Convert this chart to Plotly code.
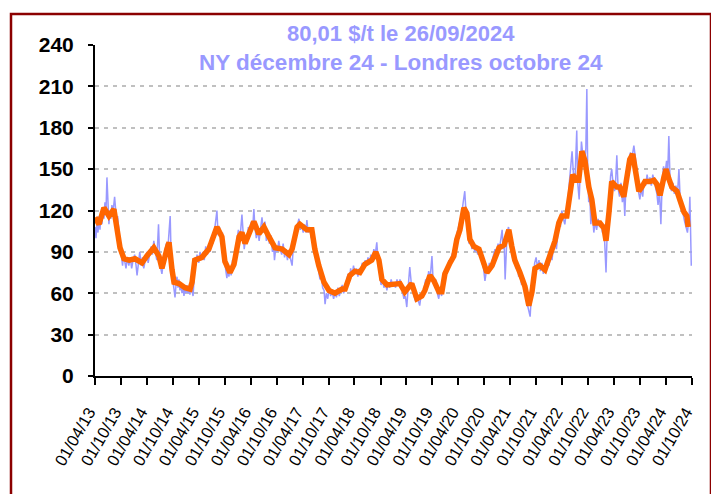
import plotly.graph_objects as go

# ---------------- data ----------------
title_line1 = "80,01 $/t le 26/09/2024"
title_line2 = "NY décembre 24 - Londres octobre 24"

blue_dates = [
    "2013-04-01","2013-04-08","2013-04-15","2013-04-22","2013-04-29","2013-05-06","2013-05-13","2013-05-20","2013-05-27","2013-06-03","2013-06-10","2013-06-17","2013-06-24","2013-07-01","2013-07-08","2013-07-15","2013-07-22","2013-07-29","2013-08-05","2013-08-17","2013-08-24","2013-08-31","2013-09-07","2013-09-14","2013-09-21","2013-09-28","2013-10-05","2013-10-12","2013-10-19","2013-10-26","2013-11-05","2013-11-15","2013-11-25","2013-12-05","2013-12-15","2013-12-25",
    "2014-01-05","2014-01-15","2014-01-22","2014-02-01","2014-02-10","2014-02-20","2014-03-01","2014-03-10","2014-03-20","2014-04-01","2014-04-10","2014-04-20","2014-05-01","2014-05-10","2014-05-20","2014-05-30","2014-06-10","2014-06-22","2014-06-30","2014-07-08","2014-07-16","2014-07-25","2014-08-05","2014-08-15","2014-08-25","2014-09-04","2014-09-12","2014-09-18","2014-09-25","2014-10-02","2014-10-09","2014-10-16","2014-10-23","2014-10-30","2014-11-06","2014-11-13","2014-11-20","2014-11-27","2014-12-04","2014-12-11","2014-12-18","2014-12-25",
    "2015-01-01","2015-01-08","2015-01-15","2015-01-22","2015-01-29","2015-02-05","2015-02-12","2015-02-20","2015-02-27","2015-03-06","2015-03-13","2015-03-20","2015-04-01","2015-04-10","2015-04-20","2015-05-01","2015-05-10","2015-05-20","2015-06-01","2015-06-10","2015-06-20","2015-07-01","2015-07-10","2015-07-20","2015-07-30","2015-08-07","2015-08-15","2015-08-25","2015-09-05","2015-09-15","2015-09-25","2015-10-02","2015-10-09","2015-10-16","2015-10-23","2015-10-30","2015-11-07","2015-11-15","2015-11-25","2015-12-05","2015-12-15","2015-12-25",
    "2016-01-05","2016-01-15","2016-01-30","2016-02-07","2016-02-15","2016-02-25","2016-03-05","2016-03-15","2016-03-25","2016-04-05","2016-04-14","2016-04-23","2016-04-30","2016-05-10","2016-05-20","2016-05-30","2016-06-10","2016-06-19","2016-06-30","2016-07-10","2016-07-20","2016-08-01","2016-08-10","2016-08-20","2016-09-01","2016-09-08","2016-09-15","2016-09-25","2016-10-05","2016-10-15","2016-10-25","2016-11-05","2016-11-15","2016-11-25","2016-12-05","2016-12-15","2016-12-25",
    "2017-01-05","2017-01-17","2017-01-28","2017-02-10","2017-02-20","2017-03-06","2017-03-15","2017-03-25","2017-04-05","2017-04-15","2017-04-25","2017-05-01","2017-05-10","2017-05-20","2017-06-01","2017-06-10","2017-06-20","2017-07-01","2017-07-10","2017-07-20","2017-08-01","2017-08-10","2017-08-20","2017-08-30","2017-09-06","2017-09-15","2017-09-25","2017-10-05","2017-10-15","2017-10-25","2017-11-05","2017-11-15","2017-11-25","2017-12-05","2017-12-15","2017-12-25",
    "2018-01-05","2018-01-15","2018-01-25","2018-02-05","2018-02-15","2018-02-25","2018-03-05","2018-03-15","2018-03-25","2018-04-05","2018-04-15","2018-04-25","2018-05-05","2018-05-15","2018-05-25","2018-06-05","2018-06-15","2018-06-25","2018-07-05","2018-07-15","2018-07-25","2018-08-05","2018-08-15","2018-08-25","2018-09-05","2018-09-15","2018-09-25","2018-10-05","2018-10-15","2018-10-25","2018-11-05","2018-11-15","2018-11-25","2018-12-05","2018-12-15","2018-12-25",
    "2019-01-05","2019-01-15","2019-01-25","2019-02-05","2019-02-15","2019-02-25","2019-03-05","2019-03-15","2019-03-25","2019-04-04","2019-04-15","2019-04-25","2019-05-05","2019-05-15","2019-05-25","2019-06-05","2019-06-20","2019-07-04","2019-07-15","2019-07-25","2019-08-05","2019-08-15","2019-08-25","2019-09-05","2019-09-15","2019-09-28","2019-10-05","2019-10-15","2019-10-25","2019-11-05","2019-11-15","2019-11-25","2019-12-05","2019-12-15","2019-12-25",
    "2020-01-05","2020-01-15","2020-01-25","2020-02-05","2020-02-15","2020-02-25","2020-03-05","2020-03-15","2020-03-25","2020-04-05","2020-04-15","2020-04-25","2020-05-05","2020-05-16","2020-05-25","2020-06-05","2020-06-15","2020-06-25","2020-07-05","2020-07-15","2020-07-25","2020-08-05","2020-08-15","2020-08-25","2020-09-05","2020-09-15","2020-09-25","2020-10-05","2020-10-15","2020-10-25","2020-11-05","2020-11-15","2020-11-25","2020-12-05","2020-12-15","2020-12-25",
    "2021-01-05","2021-01-15","2021-01-25","2021-02-03","2021-02-10","2021-02-17","2021-02-24","2021-03-03","2021-03-10","2021-03-20","2021-03-30","2021-04-10","2021-04-20","2021-04-30","2021-05-10","2021-05-20","2021-05-30","2021-06-10","2021-06-20","2021-06-30","2021-07-10","2021-07-20","2021-07-30","2021-08-10","2021-08-19","2021-08-26","2021-09-03","2021-09-10","2021-09-20","2021-09-30","2021-10-10","2021-10-20","2021-10-30","2021-11-10","2021-11-20","2021-11-30","2021-12-10","2021-12-20","2021-12-30",
    "2022-01-10","2022-01-20","2022-01-30","2022-02-10","2022-02-20","2022-03-01","2022-03-10","2022-03-20","2022-03-30","2022-04-10","2022-04-20","2022-04-30","2022-05-10","2022-05-20","2022-05-30","2022-06-10","2022-06-20","2022-06-30","2022-07-13","2022-07-20","2022-07-30","2022-08-07","2022-08-15","2022-08-25","2022-09-05","2022-09-15","2022-09-22","2022-09-28","2022-10-05","2022-10-12","2022-10-20","2022-10-30","2022-11-10","2022-11-20","2022-11-30","2022-12-10","2022-12-20","2022-12-30",
    "2023-01-10","2023-01-20","2023-01-28","2023-02-04","2023-02-12","2023-02-20","2023-02-28","2023-03-08","2023-03-16","2023-03-25","2023-04-05","2023-04-13","2023-04-21","2023-04-30","2023-05-10","2023-05-20","2023-05-30","2023-06-09","2023-06-16","2023-06-25","2023-07-05","2023-07-15","2023-07-25","2023-08-05","2023-08-19","2023-08-30","2023-09-10","2023-09-20","2023-09-30","2023-10-10","2023-10-20","2023-10-30","2023-11-10","2023-11-20","2023-11-30","2023-12-10","2023-12-20","2023-12-30",
    "2024-01-10","2024-01-20","2024-01-28","2024-02-05","2024-02-15","2024-02-25","2024-03-05","2024-03-15","2024-03-25","2024-04-05","2024-04-12","2024-04-21","2024-04-30","2024-05-10","2024-05-20","2024-05-30","2024-06-10","2024-06-20","2024-07-01","2024-07-10","2024-07-20","2024-07-30","2024-08-10","2024-08-20","2024-08-30","2024-09-05","2024-09-12","2024-09-16","2024-09-19","2024-09-23","2024-09-26",
]
blue_values = [
    108,100,112,104,116,106,118,110,122,114,126,118,144,118,110,120,114,124,118,130,120,112,116,106,98,92,86,80,88,82,78,86,80,86,78,84,
    88,80,73,82,90,80,86,78,84,90,82,88,94,88,98,90,84,110,86,78,74,82,88,96,90,104,116,90,76,68,63,57,66,72,64,70,62,68,60,66,58,64,
    60,66,60,64,59,66,62,58,70,86,80,88,82,90,84,90,84,94,88,96,90,100,96,106,112,120,102,108,98,104,88,80,76,71,78,72,78,73,84,80,92,98,
    106,98,117,100,92,100,98,108,104,112,106,121,108,100,106,98,106,115,104,112,98,104,96,102,90,96,84,94,90,98,92,88,96,86,92,84,90,
    86,80,98,104,108,114,106,110,104,110,104,113,104,108,100,108,96,90,82,78,70,74,64,62,52,60,56,64,58,62,56,61,57,64,58,62,
    66,60,64,70,74,70,78,72,80,74,78,72,78,74,82,78,84,80,86,82,88,84,92,88,97,82,72,66,70,64,68,62,68,64,70,66,
    68,64,70,66,70,64,60,56,58,50,66,79,68,62,58,54,56,51,60,58,64,70,66,76,70,87,72,66,70,60,56,64,58,68,74,
    78,76,84,80,88,90,96,100,104,108,112,118,126,134,118,104,96,103,92,98,90,94,88,92,86,82,78,69,76,74,82,78,84,88,92,86,
    96,92,98,106,92,98,70,96,104,108,100,92,84,88,78,82,72,74,66,70,62,58,52,47,43,56,64,74,82,86,78,84,76,82,74,80,76,84,80,
    88,84,94,98,92,104,112,108,120,114,110,118,124,138,150,163,146,140,178,140,128,150,170,160,152,165,208,150,126,134,110,120,104,112,106,114,108,112,
    104,110,96,75,104,118,132,145,150,140,134,142,160,136,130,140,126,132,116,140,150,156,162,158,167,158,148,134,128,136,130,142,138,146,140,144,138,146,
    140,136,132,124,134,110,140,152,146,156,144,174,140,134,140,132,138,130,150,128,122,118,112,108,104,110,118,130,100,86,80.01,
]

# smoothed average (orange)
avg_dates = [
    "2013-04-01","2013-04-29","2013-06-03","2013-07-08","2013-08-12","2013-09-03","2013-09-24","2013-10-22","2013-11-27","2014-01-08","2014-02-26",
    "2014-04-01","2014-05-20","2014-06-25","2014-07-16","2014-08-20","2014-09-04","2014-09-25","2014-10-09","2014-11-13","2014-12-25",
    "2015-01-30","2015-02-13","2015-03-04","2015-04-23","2015-06-11","2015-07-16","2015-08-07","2015-09-11","2015-10-02","2015-11-07","2015-12-05",
    "2016-01-10","2016-01-30","2016-02-21","2016-03-26","2016-04-23","2016-05-28","2016-07-03","2016-08-07","2016-09-19","2016-11-08","2016-12-26",
    "2017-01-17","2017-02-21","2017-03-12","2017-05-01","2017-06-05","2017-06-26","2017-07-24","2017-08-29","2017-10-04","2017-11-15",
    "2018-01-04","2018-01-25","2018-02-28","2018-04-04","2018-05-09","2018-06-13","2018-08-01","2018-08-29","2018-09-20","2018-10-11","2018-11-16",
    "2019-01-04","2019-02-15","2019-03-21","2019-05-09","2019-06-14","2019-07-19","2019-08-09","2019-09-14","2019-10-12","2019-11-16","2019-12-07","2019-12-28",
    "2020-02-02","2020-02-29","2020-03-21","2020-04-12","2020-05-10","2020-05-31","2020-06-21","2020-07-19","2020-08-24","2020-09-14","2020-10-19","2020-11-24",
    "2021-01-12","2021-02-17","2021-03-22","2021-04-12","2021-05-03","2021-06-08","2021-07-13","2021-08-10","2021-09-01","2021-09-22","2021-10-27","2021-12-01",
    "2022-01-06","2022-02-10","2022-03-09","2022-03-30","2022-05-04","2022-05-25","2022-06-15","2022-07-06","2022-07-27","2022-08-18","2022-09-09","2022-10-06","2022-10-27","2022-11-18","2022-12-23",
    "2023-01-21","2023-02-04","2023-02-25","2023-03-16","2023-04-21","2023-05-12","2023-06-09","2023-06-30","2023-07-21","2023-08-11","2023-08-26","2023-09-23","2023-10-14","2023-11-05","2023-12-10",
    "2024-01-07","2024-01-28","2024-02-19","2024-03-17","2024-04-01","2024-04-21","2024-05-12","2024-06-17","2024-07-08","2024-08-05","2024-08-26","2024-09-04",
]
avg_values = [
    115,110,122,116,121,109,93,85,84,85,82,
    87,93,87,78,92,97,77,68,67,64,
    63,68,84,86,92,103,108,101,83,75,81,
    101,104,96,106,112,103,108,101,93,92,88,
    92,108,110,106,106,92,80,68,62,60,
    63,63,73,76,75,81,84,90,84,70,66,
    67,67,61,67,56,58,62,73,69,61,61,74,
    82,87,99,106,122,118,99,94,92,86,75,80,
    93,95,106,94,84,75,65,51,61,78,80,77,
    89,98,111,116,116,134,146,142,142,163,156,137,128,111,111,
    107,98,119,141,137,137,130,147,157,161,150,134,137,141,141,
    142,139,131,144,150,143,137,134,128,119,116,108,
]

y_ticks = [0, 30, 60, 90, 120, 150, 180, 210, 240]

FONT = "Liberation Sans, Arial, sans-serif"

fig = go.Figure()
fig.add_trace(go.Scatter(x=blue_dates, y=blue_values, mode="lines",
                         line=dict(color="#9999FF", width=1.5), hoverinfo="skip"))
fig.add_trace(go.Scatter(x=avg_dates, y=avg_values, mode="lines",
                         line=dict(color="#FF6600", width=5.5)))

fig.update_layout(
    width=711, height=486,
    margin=dict(l=87, r=27, t=37, b=118),
    paper_bgcolor="white", plot_bgcolor="white",
    showlegend=False,
    font=dict(family=FONT, color="black"),
    xaxis=dict(
        type="date", range=["2013-04-01", "2024-10-01"],
        tick0="2013-04-01", dtick="M6", tickformat="%d/%m/%y",
        tickangle=-60, ticks="outside", ticklen=7, tickcolor="black", tickwidth=1.5,
        showline=True, linecolor="black", linewidth=2, showgrid=False,
        ticklabelstandoff=11, ticklabelshift=-6,
        tickfont=dict(family=FONT, size=16.5, color="black"),
    ),
    yaxis=dict(
        range=[0, 240], tickvals=y_ticks, ticks="outside", ticklen=5,
        tickcolor="black", tickwidth=1.5,
        showline=True, linecolor="black", linewidth=2,
        showgrid=True, gridcolor="#C0C0C0", gridwidth=2, griddash="4px,5px",
        zeroline=False, ticklabelstandoff=10,
        tickfont=dict(family=FONT, size=21, color="black", weight="bold"),
    ),
    shapes=[
        dict(type="rect", xref="paper", yref="y", x0=0.067, x1=0.963, y0=196, y1=241,
             fillcolor="white", line=dict(width=0), layer="between"),
        dict(type="rect", xref="paper", yref="paper", x0=-0.1407, x1=1.0318, y0=-0.45, y1=1.0937,
             fillcolor="rgba(0,0,0,0)", line=dict(color="#8B0000", width=2.5), layer="above"),
    ],
    annotations=[
        dict(text=title_line1, xref="paper", yref="paper", x=0.5126, y=1.036,
             xanchor="center", yanchor="middle", showarrow=False,
             font=dict(family=FONT, size=22, color="#9999FF", weight="bold")),
        dict(text=title_line2, xref="paper", yref="paper", x=0.5126, y=0.9486,
             xanchor="center", yanchor="middle", showarrow=False,
             font=dict(family=FONT, size=22.5, color="#9999FF", weight="bold")),
    ],
)

fig.write_html("out.html")
